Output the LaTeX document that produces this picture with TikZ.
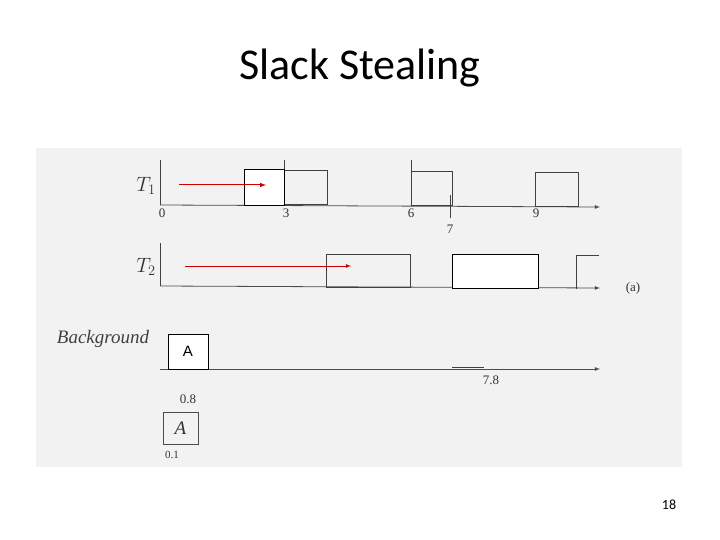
\documentclass[tikz,border=0pt]{standalone}
\usepackage{fontspec}
\setmainfont{Liberation Serif}
\newfontfamily\slidefont{Carlito}
\newfontfamily\sansA{Liberation Sans}
\begin{document}
\begin{tikzpicture}[x=1pt,y=-1pt,
  ax/.style={draw=black!70,line width=0.8pt,-latex},
  job/.style={draw=black!75,line width=1pt},
  wbox/.style={draw=black,line width=0.8pt,fill=white},
  redarr/.style={draw=red!80!black,line width=1pt,-latex},
  lbl/.style={font=\fontsize{13}{15}\selectfont,text=black!80},
  tl/.style={font=\fontsize{22}{24}\selectfont,text=black!80}]
\useasboundingbox (0,0) rectangle (720,540);
\fill[black!5] (36,148) rectangle (682,467);
\node[font=\slidefont\fontsize{44}{50}\selectfont] (title) at (360,68) {Slack Stealing};
\node[font=\slidefont\fontsize{14}{16}\selectfont] (pg) at (669,505) {18};
% T1
\draw[job] (160,160) -- (160,205);
\draw[ax] (160,205) coordinate (t1o) -- (600,207) coordinate (t1e);
\node[tl] (T1) at (146,186) {$T_1$};
\draw[job] (284,160) -- (284,205);
\draw[job] (284,171) rectangle (327,205);
\draw[job] (411,160) -- (411,205);
\draw[job] (411,172) rectangle (452,206);
\draw[job] (535,173) rectangle (578,207);
\draw[job] (450,195) -- (450,218);
\node[wbox,minimum width=40pt,minimum height=36pt,inner sep=0pt] (b1) at (264,187) {};
\node[lbl] (l0) at (162,213) {0};
\node[lbl] (l3) at (286,213) {3};
\node[lbl] (l6) at (411,213) {6};
\node[lbl] (l7) at (450,229) {7};
\node[lbl] (l9) at (536,213) {9};
\coordinate (r1s) at (179,185);
\coordinate (r1e) at (266,185);
\draw[redarr] (r1s) -- (r1e);
% T2
\draw[job] (160,243) -- (160,286);
\draw[ax] (160,286) -- (600,288);
\node[tl] (T2) at (146,267) {$T_2$};
\draw[job] (326,254) rectangle (410,287);
\node[wbox,minimum width=86pt,minimum height=34pt,inner sep=0pt] (b2) at (495,271) {};
\draw[job] (576,289) -- (576,255) -- (599,255);
\node[lbl] (a) at (633,288) {(a)};
\coordinate (r2s) at (185,266);
\coordinate (r2e) at (351,266);
\draw[redarr,line width=0.8pt] (r2s) -- (r2e);
% Background
\node[font=\fontsize{19}{22}\selectfont\itshape,text=black!75] (bg) at (103,339) {Background};
\draw[ax] (160,369) -- (600,369);
\draw[job] (452,367) -- (484,367);
\node[lbl] (l78) at (491,380) {7.8};
\node[wbox,minimum width=40pt,minimum height=35pt,inner sep=0pt,font=\sansA\fontsize{15}{17}\selectfont] (bA) at (188,351.5) {A};
% lower
\node[lbl] (l08) at (188,399) {0.8};
\node[draw=black!70,line width=1pt,minimum width=35pt,minimum height=32pt,inner sep=0pt,font=\fontsize{19}{22}\selectfont\itshape,text=black!80] (A2) at (180.5,428) {A};
\node[lbl,font=\fontsize{11}{13}\selectfont] (l01) at (172,455) {0.1};
\end{tikzpicture}
\end{document}
